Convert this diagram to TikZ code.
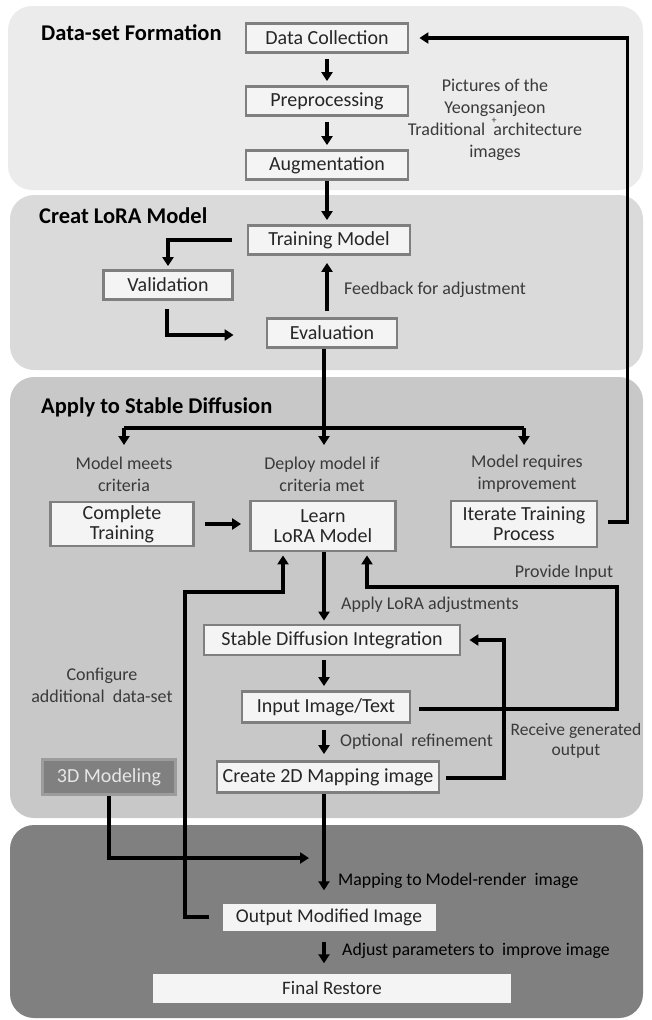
\documentclass[tikz,border=0pt]{standalone}
\usepackage{fontspec}
\setmainfont{Carlito}
\usetikzlibrary{arrows.meta,calc}
\definecolor{pone}{HTML}{EBEBEB}
\definecolor{ptwo}{HTML}{DADADA}
\definecolor{pthree}{HTML}{C8C8C8}
\definecolor{pfour}{HTML}{808080}
\definecolor{boxborder}{HTML}{7F7F7F}
\definecolor{boxfill}{HTML}{F4F4F4}
\definecolor{txt}{HTML}{262626}
\definecolor{lbltxt}{HTML}{3A3A3A}
\definecolor{mdborder}{HTML}{9C9C9C}
\definecolor{mdtext}{HTML}{E6E6E6}
\begin{document}
\begin{tikzpicture}[x=1pt,y=-1pt,
  panel/.style={rounded corners=24pt},
  box/.style={draw=boxborder,line width=2.8pt,fill=boxfill,text=txt,inner sep=0pt,align=center,
    font=\fontsize{20}{20}\selectfont},
  plainbox/.style={fill=boxfill,text=txt,inner sep=0pt,align=center,font=\fontsize{19.5}{20}\selectfont},
  lbl/.style={text=lbltxt,inner sep=0pt,align=center,font=\fontsize{18}{22}\selectfont},
  ttl/.style={anchor=west,inner sep=0pt,text=black,font=\bfseries\fontsize{22.5}{24}\selectfont},
  arr/.style={line width=3.2pt,-{Triangle[length=9pt,width=11pt]}},
  ln/.style={line width=3.2pt}
]
\useasboundingbox (0,0) rectangle (651,1020);
% panels
\fill[pone,panel] (8,6) rectangle (643,190);
\fill[ptwo,panel] (10,195) rectangle (643,370);
\fill[pthree,panel] (10,377) rectangle (643,818);
\fill[pfour,panel] (10,825) rectangle (643,1018);

% titles
\node[ttl] (t1) at (41,33) {Data-set Formation};
\node[ttl] (t2) at (39,216) {Creat LoRA Model};
\node[ttl] (t3) at (41,407) {Apply to Stable Diffusion};

% boxes
\node[box,minimum width=162pt,minimum height=29pt] (dc) at (327,38) {Data Collection};
\node[box,minimum width=162pt,minimum height=29pt] (pre) at (327,101) {Preprocessing};
\node[box,minimum width=162pt,minimum height=29pt] (aug) at (327,165) {Augmentation};
\node[box,minimum width=162pt,minimum height=29pt] (tm) at (329,240) {Training Model};
\node[box,minimum width=129pt,minimum height=29pt] (val) at (168,285) {Validation};
\node[box,minimum width=130pt,minimum height=29pt] (ev) at (332,333) {Evaluation};
\node[box,minimum width=143pt,minimum height=44pt] (ct) at (122,524) {Complete\\Training};
\node[box,minimum width=145pt,minimum height=50pt] (ll) at (323,526) {Learn\\LoRA Model};
\node[box,minimum width=146pt,minimum height=46pt] (it) at (524,524) {Iterate Training\\Process};
\node[box,minimum width=256pt,minimum height=30pt] (sd) at (332,640) {Stable Diffusion Integration};
\node[box,minimum width=168pt,minimum height=31pt] (ii) at (326,707) {Input Image/Text};
\node[box,minimum width=222pt,minimum height=31pt] (cm) at (328,777) {Create 2D Mapping image};
\node[box,draw=mdborder,fill=pfour,text=mdtext,minimum width=133pt,minimum height=35pt] (md) at (109,777) {3D Modeling};
\node[plainbox,minimum width=213pt,minimum height=27pt] (om) at (329,917) {Output Modified Image};
\node[plainbox,font=\fontsize{19}{20}\selectfont,minimum width=358pt,minimum height=29pt] (fr) at (332,988) {Final Restore};

% labels
\node[lbl] (pic) at (495,120) {Pictures of the\\Yeongsanjeon\\Traditional \ architecture\\images};
\node[lbl,font=\fontsize{10}{10}\selectfont] (plus) at (494,120.5) {+};
\node[lbl,anchor=west] (fb) at (344,290) {Feedback for adjustment};
\node[lbl] (mm) at (124,474) {Model meets\\criteria};
\node[lbl] (dm) at (322,474) {Deploy model if\\criteria met};
\node[lbl] (mr) at (527,474) {Model requires\\improvement};
\node[lbl] (pi) at (564,573) {Provide Input};
\node[lbl,anchor=west] (al) at (341,605) {Apply LoRA adjustments};
\node[lbl] (cf) at (102,685) {Configure\\additional \ data-set};
\node[lbl,anchor=west] (orf) at (340,742) {Optional \ refinement};
\node[lbl,font=\fontsize{17.5}{20}\selectfont] (rg) at (576,741) {Receive generated\\output};
\node[lbl,anchor=west,text=black,font=\fontsize{17.8}{22}\selectfont] (mp) at (338,881) {Mapping to Model-render \ image};
\node[lbl,anchor=west,text=black,font=\fontsize{17.8}{22}\selectfont] (ap) at (342,951) {Adjust parameters to \ improve image};

% coordinates
\coordinate (ta) at (327,0);
\coordinate (tb) at (324,0);
\coordinate (jc) at (324,428);
\coordinate (jl) at (124,428);
\coordinate (jr) at (524,428);
\coordinate (mapin) at (309,858);

% connectors panel 1-2
\draw[arr,shorten <=5pt,shorten >=4pt] (dc.south -| ta) -- (pre.north -| ta);
\draw[arr,shorten <=5pt,shorten >=4pt] (pre.south -| ta) -- (aug.north -| ta);
\draw[arr,shorten >=4pt] (aug.south -| ta) -- (tm.north -| ta);
\draw[arr,shorten >=3pt] ($(tm.west)+(-15,0)$) -| (val.north);
\draw[arr] ($(val.south)+(-1,8)$) |- ($(ev.west)+(-32,2)$);
\draw[arr,shorten <=6pt,shorten >=7pt] (ev.north -| ta) -- (tm.south -| ta);

% panel 3 branching
\draw[ln] (ev.south -| jc) -- (jc);
\draw[ln] (jl) -- (jr);
\draw[arr] (jc) -- ($(jc)+(0,17)$);
\draw[arr] (jl) -- ($(jl)+(0,17)$);
\draw[arr] (jr) -- ($(jr)+(0,17)$);

\draw[arr] ($(ct.east)+(10,0)$) -- ($(ll.west)+(-8,-2)$);
\draw[arr] ($(it.east)+(10,-2)$) -| ($(dc.east)+(218,0)$) -- ($(dc.east)+(10,0)$);

% main trunk
\draw[arr,shorten >=3pt] (ll.south -| tb) -- (sd.north -| tb);
\draw[arr,shorten <=4pt,shorten >=4pt] (sd.south -| tb) -- (ii.north -| tb);
\draw[arr,shorten <=6pt,shorten >=6pt] (ii.south -| tb) -- (cm.north -| tb);
\draw[arr,shorten >=13pt] (cm.south -| tb) -- (om.north -| tb);
\draw[arr,shorten <=11pt,shorten >=10pt] (om.south -| tb) -- (fr.north -| tb);

% loops
\draw[arr,shorten >=3pt] ($(ii.east)+(8,2)$) -| (617,587) -| ($(ll.south)+(44,0)$);
\draw[arr] ($(cm.east)+(6,1)$) -| (504,640) -- ($(sd.east)+(8,0)$);
\draw[arr,shorten >=3pt] ($(om.west)+(-13,0)$) -| (185,592) -| ($(ll.south)+(-40,0)$);
\draw[arr] (md.south) |- (mapin);
\end{tikzpicture}
\end{document}
